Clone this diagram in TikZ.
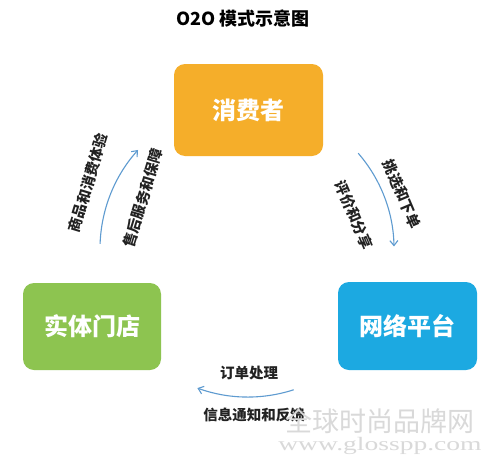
\documentclass[tikz,border=0pt]{standalone}
\usepackage{fontspec}
\setmainfont{Noto Sans CJK SC}
\newfontfamily\wmserif{Liberation Serif}
\usetikzlibrary{arrows.meta}
\definecolor{orangebox}{HTML}{F5AE2A}
\definecolor{greenbox}{HTML}{8DC450}
\definecolor{bluebox}{HTML}{1CA9E1}
\definecolor{arcblue}{HTML}{5E9BD0}
\definecolor{labeltext}{HTML}{222222}
\tikzset{
  box/.style={rounded corners=11pt, inner sep=0pt, text=white,
    font=\bfseries\fontsize{24}{24}\selectfont},
  flowlabel/.style={text=labeltext, inner sep=0pt, font=\bfseries\fontsize{14.5}{15}\selectfont},
  flowarc/.style={draw=arcblue, line width=1.1pt, -{Straight Barb[length=5pt,width=8pt]}},
  watermark/.style={text=black!15, inner sep=0pt},
}
\begin{document}
\begin{tikzpicture}[x=1pt,y=-1pt]
\useasboundingbox[fill=white] (0,0) rectangle (500,471);

% title
\node (title) at (243,19) {\bfseries\fontsize{18}{18}\selectfont O2O 模式示意图};

% boxes
\node[box, fill=orangebox, minimum width=149pt, minimum height=92pt] (consumer) at (248.5,110) {消费者};
\node[box, fill=greenbox, minimum width=138pt, minimum height=87pt] (store) at (92,326.5) {实体门店};
\node[box, fill=bluebox, minimum width=139pt, minimum height=88pt] (online) at (407.5,326) {网络平台};

% arcs on a common circle
\coordinate (O) at (248,249);
\coordinate (la) at ([shift={(-178:148)}]O);
\coordinate (ra) at ([shift={(-41:146)}]O);
\coordinate (ba) at ([shift={(72:148)}]O);
\draw[flowarc] (la) arc[start angle=-178, end angle=-138, radius=148];
\draw[flowarc] (ra) arc[start angle=-41, end angle=-1, radius=146];
\draw[flowarc] (ba) arc[start angle=72, end angle=110, radius=148];

% labels
\node[flowlabel, rotate=73] (l1) at (88,183) {商品和消费体验};
\node[flowlabel, rotate=73] (l2) at (143,198) {售后服务和保障};
\node[flowlabel, rotate=-67] (r1) at (402,194) {挑选和下单};
\node[flowlabel, rotate=-67] (r2) at (354,215) {评价和分享};
\node[flowlabel] (b1) at (249,373) {订单处理};
\node[flowlabel] (b2) at (254,415) {信息通知和反馈};

% watermark
\node[watermark, font=\fontsize{27}{27}\selectfont] (wm1) at (380,421.5) {全球时尚品牌网};
\node[watermark] (wm2) at (380,446) {\scalebox{1.45}[1]{\wmserif\fontsize{19}{19}\selectfont www.glosspp.com}};
\end{tikzpicture}
\end{document}
